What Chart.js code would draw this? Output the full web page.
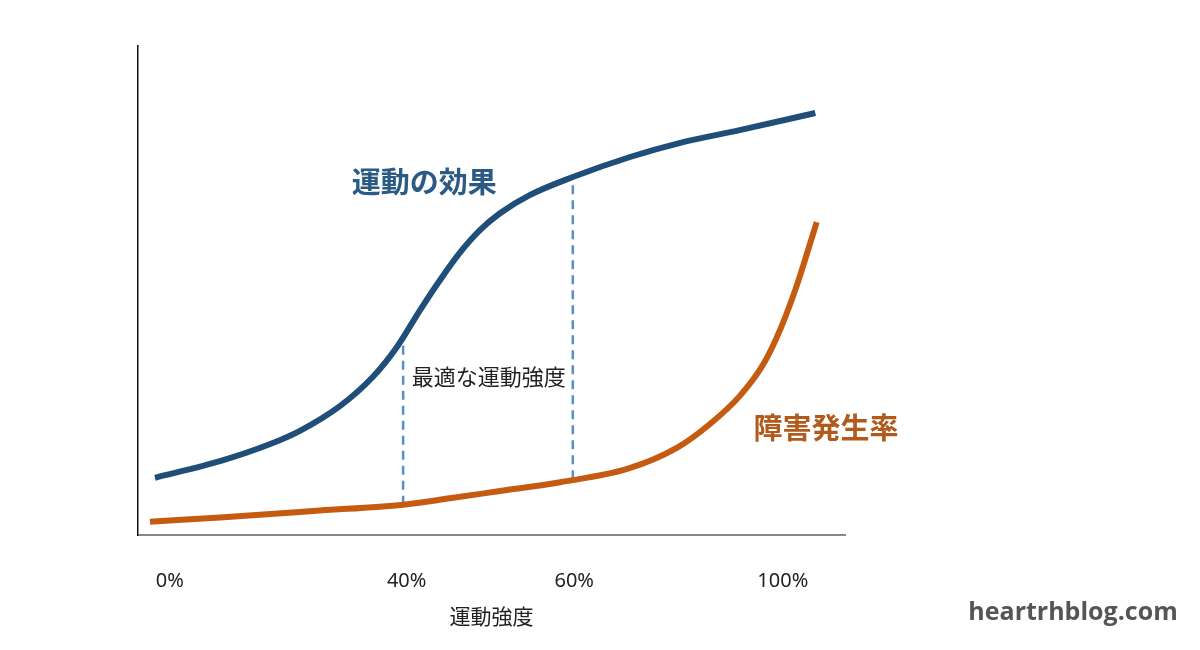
<!DOCTYPE html>
<html>
<head>
<meta charset="utf-8">
<script src="https://cdn.jsdelivr.net/npm/chart.js@4"></script>
<style>
  html, body { margin: 0; padding: 0; background: #fff; }
  #wrap { width: 1200px; height: 650px; }
</style>
</head>
<body>
<div id="wrap"><canvas id="curveChart"></canvas></div>
<script>
// curve values (x in position units 0-100, y in 0-100)
const effectX = [2.4, 11.6, 18.7, 22.9, 28.6, 33.2, 36.6, 39.9, 42.7, 45.5, 48.4, 51.2, 55.4, 61.5, 69.6, 76.7, 85.1, 95.8];
const effectY = [11.7, 15.1, 18.6, 21.3, 26.4, 32.3, 38.4, 46.0, 52.1, 57.7, 62.4, 65.8, 69.5, 73.2, 77.3, 80.2, 82.8, 86.3];

const injuryX = [1.7, 11.6, 25.7, 37.5, 44.1, 51.2, 59.7, 69.2, 76.2, 80.9, 85.1, 88.4, 90.8, 93.2, 96.0];
const injuryY = [2.7, 3.6, 5.0, 6.2, 7.5, 9.0, 10.8, 13.5, 17.8, 22.7, 28.4, 34.8, 41.9, 51.1, 64.0];

// dashed markers of the optimal range: [x, yLow, yHigh]
const optimalLow = [37.5, 6.2, 40.2];
const optimalHigh = [61.5, 11.4, 73.2];

// tick positions and their labels
const tickPos = [4.5, 38.0, 61.7, 91.2];
const tickLabels = ['0%', '40%', '60%', '100%'];

const toPoints = (xs, ys) => xs.map((x, i) => ({ x: x, y: ys[i] }));
const jpFont = '"Noto Sans CJK JP", "Noto Sans", sans-serif';

// text labels next to the curves
const labelPlugin = {
    id: 'labels',
    afterDraw(chart) {
        const ctx = chart.ctx;
        const xs = chart.scales.x;
        const ys = chart.scales.y;
        ctx.save();
        ctx.textAlign = 'center';
        ctx.textBaseline = 'middle';

        ctx.fillStyle = '#2b5a84';
        ctx.font = 'bold 29px ' + jpFont;
        ctx.fillText('運動の効果', xs.getPixelForValue(40.5), ys.getPixelForValue(72.2));

        ctx.fillStyle = '#b25a1c';
        ctx.fillText('障害発生率', xs.getPixelForValue(97.3), ys.getPixelForValue(21.9));

        ctx.fillStyle = '#222';
        ctx.font = '22px ' + jpFont;
        ctx.fillText('最適な運動強度', xs.getPixelForValue(49.6), ys.getPixelForValue(32.3));

        ctx.fillStyle = '#555';
        ctx.font = 'bold 25px "Open Sans", sans-serif';
        ctx.fillText('heartrhblog.com', 1073, 613);
        ctx.restore();
    }
};

const ctx = document.getElementById('curveChart').getContext('2d');
const curveChart = new Chart(ctx, {
    type: 'line',
    data: {
        datasets: [
            {
                label: '運動の効果',
                data: toPoints(effectX, effectY),
                borderColor: '#1f4e79',
                borderWidth: 6,
                pointRadius: 0,
                cubicInterpolationMode: 'monotone'
            },
            {
                label: '障害発生率',
                data: toPoints(injuryX, injuryY),
                borderColor: '#c55a11',
                borderWidth: 6,
                pointRadius: 0,
                cubicInterpolationMode: 'monotone'
            },
            {
                label: 'low',
                data: [{ x: optimalLow[0], y: optimalLow[1] }, { x: optimalLow[0], y: optimalLow[2] }],
                borderColor: '#5b8ccc',
                borderWidth: 2.5,
                borderDash: [9, 6],
                pointRadius: 0,
                order: 5
            },
            {
                label: 'high',
                data: [{ x: optimalHigh[0], y: optimalHigh[1] }, { x: optimalHigh[0], y: optimalHigh[2] }],
                borderColor: '#5b8ccc',
                borderWidth: 2.5,
                borderDash: [9, 6],
                pointRadius: 0,
                order: 5
            }
        ]
    },
    options: {
        responsive: true,
        maintainAspectRatio: false,
        animation: false,
        layout: { padding: { left: 138, right: 355, top: 46, bottom: 0 } },
        plugins: {
            legend: { display: false },
            tooltip: { enabled: false }
        },
        scales: {
            x: {
                type: 'linear',
                min: 0,
                max: 100,
                afterBuildTicks: (scale) => {
                    scale.ticks = tickPos.map(v => ({ value: v }));
                },
                afterFit: (scale) => { scale.height = 115; },
                grid: { display: false, drawTicks: false },
                border: { display: true, color: '#888', width: 2 },
                ticks: {
                    padding: 34,
                    color: '#222',
                    font: { family: '"Noto Sans", "Open Sans", sans-serif', size: 20 },
                    maxRotation: 0,
                    autoSkip: false,
                    callback: (value) => tickLabels[tickPos.indexOf(value)]
                },
                title: {
                    display: true,
                    text: '運動強度',
                    color: '#222',
                    font: { family: jpFont, size: 21 },
                    padding: { top: 4, bottom: 21 }
                }
            },
            y: {
                min: 0,
                max: 100,
                afterFit: (scale) => { scale.width = 0; },
                grid: { display: false, drawTicks: false },
                border: { display: true, color: '#111', width: 1.5 },
                ticks: { display: false }
            }
        }
    },
    plugins: [labelPlugin]
});
</script>
</body>
</html>
